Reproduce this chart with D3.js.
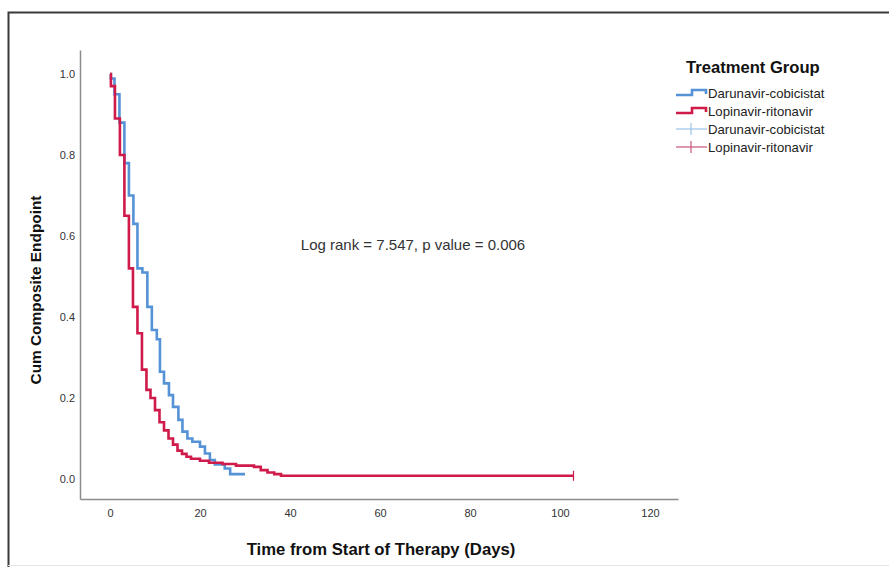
<!DOCTYPE html>
<html><head><meta charset="utf-8">
<script src="https://cdn.jsdelivr.net/npm/d3@7"></script>
<style>
html,body{margin:0;padding:0;background:#fff;}
svg{display:block;font-family:"Liberation Sans",Arial,sans-serif;}
</style></head>
<body><svg id="c" width="889" height="567"></svg>
<script>
// ---- data ----
const seriesNames = ["Darunavir-cobicistat", "Lopinavir-ritonavir"];
const darunavirTime = [0, 0.2, 1, 2.1, 3.2, 4.2, 5.2, 6.1, 7.2, 8.3, 9.3, 10.4, 11.1, 12, 13.1, 14, 15.2, 16.1, 17.2, 18.3, 20, 21.1, 22.2, 23.3, 25.5, 26.7, 30];
const darunavirSurv = [1.0, 0.989, 0.95, 0.88, 0.78, 0.70, 0.63, 0.52, 0.51, 0.425, 0.368, 0.345, 0.265, 0.236, 0.207, 0.178, 0.146, 0.117, 0.10, 0.092, 0.08, 0.063, 0.047, 0.036, 0.026, 0.012, 0.012];
const lopinavirTime = [0, 0.2, 1.1, 2.2, 3.2, 4.2, 5.1, 6.1, 7.1, 8.1, 9, 10, 11, 12, 13, 14, 15, 16, 17, 18, 20, 22, 25, 28, 32, 33.5, 35, 36.5, 38, 103];
const lopinavirSurv = [1.0, 0.97, 0.89, 0.80, 0.65, 0.52, 0.425, 0.36, 0.27, 0.22, 0.20, 0.17, 0.14, 0.12, 0.10, 0.085, 0.07, 0.062, 0.055, 0.05, 0.045, 0.04, 0.037, 0.033, 0.03, 0.022, 0.016, 0.012, 0.008, 0.008];
const censorTime = [103];
const censorSurv = [0.008];
const xTicks = [0, 20, 40, 60, 80, 100, 120];
const yTicks = [0.0, 0.2, 0.4, 0.6, 0.8, 1.0];
const colors = ["#5592d6", "#cf1a4a"];
const censorColors = ["#9cc4ea", "#c8557a"];

const svg = d3.select("#c");

// frame
svg.append("path").attr("d", "M8.5,567 V12.5 H889").attr("fill", "none").attr("stroke", "#3a3a3a").attr("stroke-width", 2);
svg.append("line").attr("x1", 8).attr("x2", 889).attr("y1", 565.5).attr("y2", 565.5).attr("stroke", "#e4e4e4").attr("stroke-width", 1);

const x = d3.scaleLinear().domain([-30 / 4.5, 568 / 4.5]).range([80, 678]);
const y = d3.scaleLinear().domain([-20 / 405, 429 / 405]).range([499, 50]);

// axes
const xa = svg.append("g").attr("transform", "translate(0,499)")
  .call(d3.axisBottom(x).tickValues(xTicks).tickSize(0).tickPadding(10).tickFormat(d3.format("d")));
const ya = svg.append("g").attr("transform", "translate(80,0)")
  .call(d3.axisLeft(y).tickValues(yTicks).tickSize(0).tickPadding(5).tickFormat(d3.format(".1f")));
[xa, ya].forEach(g => {
  g.select(".domain").attr("stroke", "#8c8c8c").attr("stroke-width", 1.5);
  g.selectAll("text").attr("font-size", 11).attr("fill", "#333").attr("font-family", "Liberation Sans, Arial, sans-serif");
});

// curves
const line = d3.line().x(d => x(d[0])).y(d => y(d[1])).curve(d3.curveStepAfter);
const data = [d3.zip(darunavirTime, darunavirSurv), d3.zip(lopinavirTime, lopinavirSurv)];
data.forEach((d, i) => {
  svg.append("path").datum(d).attr("d", line).attr("fill", "none")
    .attr("stroke", colors[i]).attr("stroke-width", 2.6).attr("stroke-linejoin", "miter");
});
// censor marks
d3.zip(censorTime, censorSurv).forEach(c => {
  svg.append("line").attr("x1", x(c[0])).attr("x2", x(c[0])).attr("y1", y(c[1]) - 5).attr("y2", y(c[1]) + 5)
    .attr("stroke", colors[1]).attr("stroke-width", 1.2);
});

// annotation
svg.append("text").attr("x", 413).attr("y", 250).attr("text-anchor", "middle")
  .attr("font-size", 15).attr("fill", "#333").text("Log rank = 7.547, p value = 0.006");

// axis titles
svg.append("text").attr("x", 381).attr("y", 555).attr("text-anchor", "middle")
  .attr("font-size", 16.7).attr("font-weight", "bold").attr("fill", "#111").text("Time from Start of Therapy (Days)");
svg.append("text").attr("transform", "translate(41,290) rotate(-90)").attr("text-anchor", "middle")
  .attr("font-size", 15.4).attr("font-weight", "bold").attr("fill", "#111").text("Cum Composite Endpoint");

// legend
svg.append("text").attr("x", 686).attr("y", 73).attr("font-size", 16.6).attr("font-weight", "bold").attr("fill", "#111").text("Treatment Group");
const rows = [93, 111, 129, 147];
seriesNames.forEach((n, i) => {
  const cy = rows[i];
  svg.append("path").attr("d", `M676,${cy + 2} H692 V${cy - 3} H706 V${cy + 1}`).attr("fill", "none")
    .attr("stroke", colors[i]).attr("stroke-width", 2.6);
  svg.append("text").attr("x", 708).attr("y", cy + 4.8).attr("font-size", 13.2).attr("fill", "#222").text(n);
});
seriesNames.forEach((n, i) => {
  const cy = rows[i + 2];
  svg.append("line").attr("x1", 676).attr("x2", 707).attr("y1", cy).attr("y2", cy).attr("stroke", censorColors[i]).attr("stroke-width", 1.2);
  svg.append("line").attr("x1", 691).attr("x2", 691).attr("y1", cy - 6).attr("y2", cy + 6).attr("stroke", censorColors[i]).attr("stroke-width", 1.2);
  svg.append("text").attr("x", 708).attr("y", cy + 4.8).attr("font-size", 13.2).attr("fill", "#222").text(n);
});
</script></body></html>
